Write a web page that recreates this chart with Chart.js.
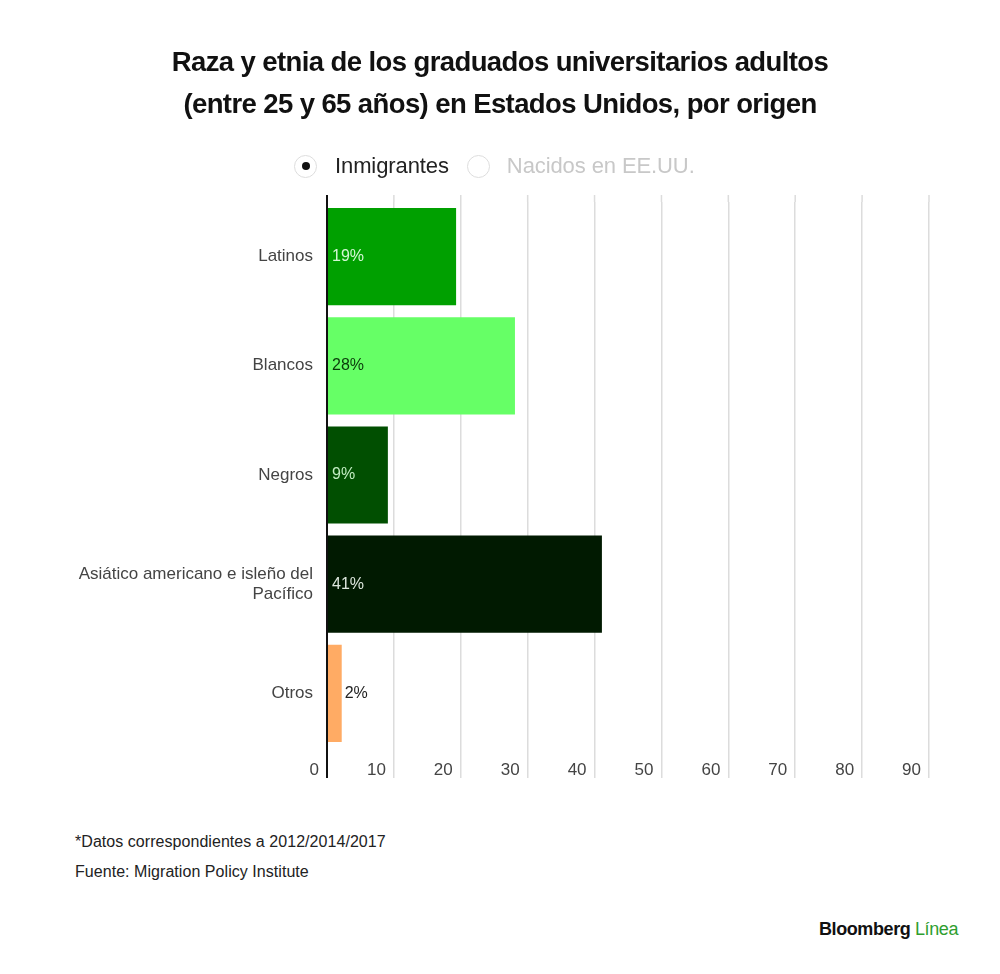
<!DOCTYPE html>
<html>
<head>
<meta charset="utf-8">
<script src="https://cdn.jsdelivr.net/npm/chart.js@4.4.1/dist/chart.umd.min.js"></script>
<style>
  html, body { margin: 0; padding: 0; background: #fff; }
  body { width: 1000px; height: 974px; position: relative; overflow: hidden; font-family: "Liberation Sans", Arial, sans-serif; }
  #title { position: absolute; left: 0; width: 1000px; top: 41px; text-align: center; font-weight: bold; font-size: 27.5px; line-height: 42px; color: #111; letter-spacing: -0.6px; }
  #legend { position: absolute; top: 152px; left: 294px; height: 28px; display: flex; align-items: center; font-size: 22px; }
  .radio { width: 23px; height: 23px; border: 1.5px solid #ddd; border-radius: 50%; box-sizing: border-box; position: relative; flex: none; }
  .radio.on::after { content: ""; position: absolute; left: 50%; top: 50%; width: 8px; height: 8px; margin: -4px 0 0 -4px; background: #111; border-radius: 50%; }
  .lg-item { display: flex; align-items: center; }
  .lg-text { margin-left: 18px; margin-right: 18px; letter-spacing: -0.1px; }
  #wrap { position: absolute; left: 0; top: 0; width: 1000px; height: 788px; }
  #foot1, #foot2 { position: absolute; left: 75px; font-size: 16px; color: #222; letter-spacing: 0.05px; }
  #foot1 { top: 833px; }
  #foot2 { top: 863px; }
  #brand { position: absolute; right: 42px; top: 919px; font-weight: bold; font-size: 18px; color: #111; letter-spacing: -0.4px; }
  #brand span { color: #2f9e2f; font-weight: normal; }
</style>
</head>
<body>
<div id="wrap"><canvas id="c"></canvas></div>
<div id="title">Raza y etnia de los graduados universitarios adultos<br>(entre 25 y 65 años) en Estados Unidos, por origen</div>
<div id="legend">
  <div class="lg-item"><div class="radio on"></div><div class="lg-text" style="color:#222">Inmigrantes</div></div>
  <div class="lg-item"><div class="radio"></div><div class="lg-text" style="color:#c8c8c8;margin-left:17px">Nacidos en EE.UU.</div></div>
</div>
<div id="foot1">*Datos correspondientes a 2012/2014/2017</div>
<div id="foot2">Fuente: Migration Policy Institute</div>
<div id="brand">Bloomberg <span>Línea</span></div>
<script>
const categories = [
  "Latinos",
  "Blancos",
  "Negros",
  ["Asiático americano e isleño del", "Pacífico"],
  "Otros"
];
const values = [19.3, 28.1, 9.1, 41.1, 2.2];
const valueLabels = ["19%", "28%", "9%", "41%", "2%"];
const barColors = ["#00a000", "#66ff66", "#014f01", "#011a01", "#ffab64"];
const labelColors = ["#d4f7d4", "#0b3a0b", "#c2ecc2", "#dde6dd", "#222222"];
const xTicks = [0, 10, 20, 30, 40, 50, 60, 70, 80, 90];

const gridTopExtend = {
  id: 'gridTopExtend',
  beforeDatasetsDraw(chart) {
    const sx = chart.scales.x, ctx = chart.ctx, top = chart.chartArea.top;
    ctx.save();
    sx.ticks.forEach(t => {
      const x = sx.getPixelForValue(t.value);
      ctx.beginPath();
      ctx.strokeStyle = t.value === 0 ? '#111' : '#dcdcdc';
      ctx.lineWidth = t.value === 0 ? 2 : 1.5;
      ctx.moveTo(x, top - 7);
      ctx.lineTo(x, top);
      ctx.stroke();
    });
    ctx.restore();
  }
};

const barLabels = {
  id: 'barLabels',
  afterDatasetsDraw(chart) {
    const ctx = chart.ctx;
    const meta = chart.getDatasetMeta(0);
    ctx.save();
    ctx.font = '16px "Liberation Sans", Arial, sans-serif';
    ctx.textBaseline = 'middle';
    ctx.textAlign = 'left';
    meta.data.forEach((bar, i) => {
      const txt = valueLabels[i];
      const w = ctx.measureText(txt).width;
      const inside = (bar.x - bar.base) > w + 12;
      ctx.fillStyle = labelColors[i];
      ctx.fillText(txt, inside ? bar.base + 4 : bar.x + 3, bar.y);
    });
    ctx.restore();
  }
};

new Chart(document.getElementById('c'), {
  type: 'bar',
  data: {
    labels: categories,
    datasets: [{
      label: 'Inmigrantes',
      data: values,
      backgroundColor: barColors,
      borderWidth: 0,
      barPercentage: 0.89,
      categoryPercentage: 1.0
    }]
  },
  options: {
    indexAxis: 'y',
    responsive: true,
    maintainAspectRatio: false,
    animation: false,
    devicePixelRatio: 1,
    layout: { padding: { top: 202, right: 71, bottom: 0, left: 0 } },
    plugins: { legend: { display: false }, tooltip: { enabled: false } },
    scales: {
      x: {
        min: 0, max: 90,
        afterBuildTicks(scale) { scale.ticks = xTicks.map(v => ({ value: v })); },
        afterFit(scale) { scale.height = 40; },
        border: { display: false },
        grid: {
          drawOnChartArea: true,
          drawTicks: true,
          tickLength: 30,
          color: c => (c.tick && c.tick.value === 0) ? '#111' : '#dcdcdc',
          lineWidth: c => (c.tick && c.tick.value === 0) ? 2 : 1.5
        },
        ticks: {
          align: 'end',
          labelOffset: -8,
          padding: -18,
          maxRotation: 0,
          color: '#444',
          font: { family: '"Liberation Sans", Arial, sans-serif', size: 17 }
        }
      },
      y: {
        afterFit(scale) { scale.width = 327; },
        border: { display: false },
        grid: { display: false, drawTicks: false },
        ticks: {
          padding: 14,
          color: '#444',
          font: { family: '"Liberation Sans", Arial, sans-serif', size: 17, lineHeight: 1.15 }
        }
      }
    }
  },
  plugins: [gridTopExtend, barLabels]
});
</script>
</body>
</html>
